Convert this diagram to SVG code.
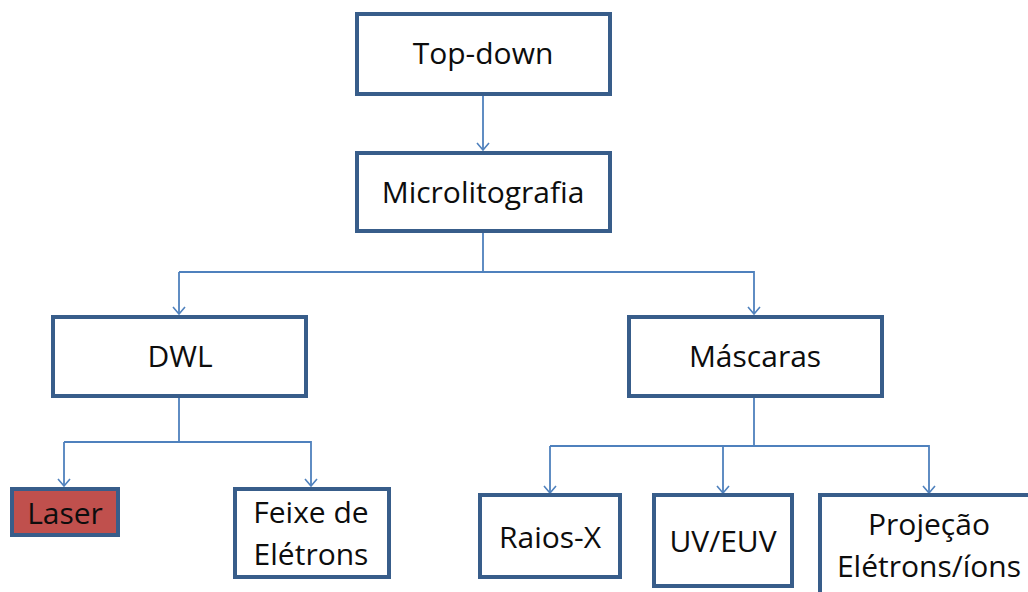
<svg xmlns="http://www.w3.org/2000/svg" width="1028" height="592" viewBox="0 0 1028 592">
  <defs>
    <marker id="arrow" markerUnits="userSpaceOnUse" markerWidth="14" markerHeight="14" refX="12" refY="7" orient="auto" viewBox="0 0 14 14">
      <path d="M5,1 L12,7 L5,13" fill="none" stroke="#4F81BD" stroke-width="1.6"/>
    </marker>
    <style>
      .box { fill: #FFFFFF; stroke: #385D8A; stroke-width: 4; }
      .hot { fill: #C0504D; }
      .lbl { font-family: "Open Sans", "Liberation Sans", sans-serif; font-size: 30px; fill: #0D0D0D; text-anchor: middle; }
      .wire { fill: none; stroke: #4F81BD; stroke-width: 1.8; }
      .tip { marker-end: url(#arrow); }
    </style>
  </defs>
  <rect width="1028" height="592" fill="#FFFFFF"/>

  <!-- connectors -->
  <g id="connectors">
    <path class="wire tip" d="M483,95 V150"/>
    <path class="wire" d="M483,233 V272 H179"/>
    <path class="wire tip" d="M179,272 V314"/>
    <path class="wire tip" d="M483,272 H754 V314"/>
    <path class="wire" d="M179,398 V442 H64"/>
    <path class="wire tip" d="M64,442 V486"/>
    <path class="wire tip" d="M179,442 H311 V486"/>
    <path class="wire" d="M754,398 V446 H550"/>
    <path class="wire tip" d="M550,446 V493"/>
    <path class="wire tip" d="M723,446 V493"/>
    <path class="wire tip" d="M754,446 H929 V493"/>
  </g>

  <!-- nodes -->
  <g id="top-down">
    <rect class="box" x="357" y="14" width="253" height="80"/>
    <text class="lbl" x="483" y="64">Top-down</text>
  </g>
  <g id="microlitografia">
    <rect class="box" x="357" y="153" width="253" height="78"/>
    <text class="lbl" x="483" y="203">Microlitografia</text>
  </g>
  <g id="dwl">
    <rect class="box" x="53" y="317" width="253" height="79"/>
    <text class="lbl" x="180" y="367">DWL</text>
  </g>
  <g id="mascaras">
    <rect class="box" x="629" y="317" width="253" height="79"/>
    <text class="lbl" x="755" y="367">Máscaras</text>
  </g>
  <g id="laser">
    <rect class="box hot" x="12" y="489" width="106" height="46"/>
    <text class="lbl" x="65" y="524">Laser</text>
  </g>
  <g id="feixe">
    <rect class="box" x="235" y="489" width="154" height="88"/>
    <text class="lbl" x="311" y="523">Feixe de</text>
    <text class="lbl" x="311" y="565">Elétrons</text>
  </g>
  <g id="raios-x">
    <rect class="box" x="480" y="495" width="140" height="82"/>
    <text class="lbl" x="550" y="548">Raios-X</text>
  </g>
  <g id="uv-euv">
    <rect class="box" x="654" y="495" width="138" height="91"/>
    <text class="lbl" x="723" y="552">UV/EUV</text>
  </g>
  <g id="projecao">
    <rect class="box" x="820" y="495" width="230" height="110"/>
    <text class="lbl" x="929" y="535">Projeção</text>
    <text class="lbl" x="929" y="577">Elétrons/íons</text>
  </g>
</svg>
